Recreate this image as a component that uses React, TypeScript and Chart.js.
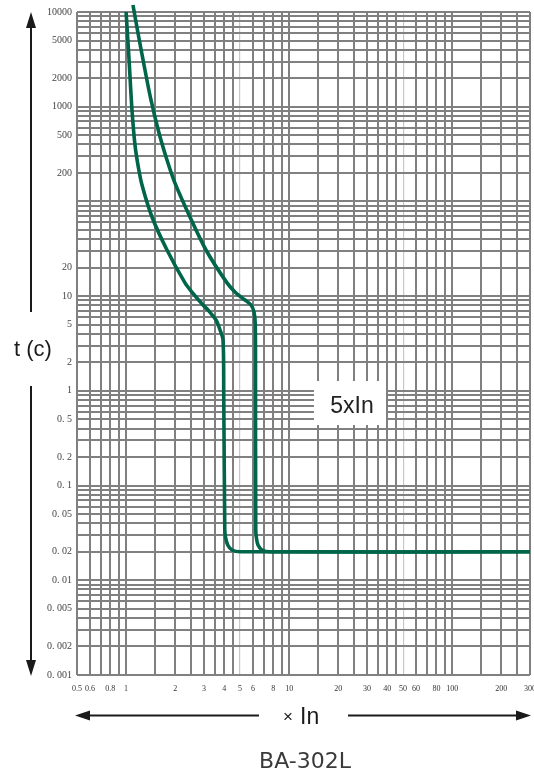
import React, { useEffect, useRef } from 'react';
import { Chart, registerables } from 'chart.js';

Chart.register(...registerables);

// ---- tick labels ----
const X_LABELS = [0.5, 0.6, 0.8, 1, 2, 3, 4, 5, 6, 8, 10, 20, 30, 40, 50, 60, 80, 100, 200, 300];
const Y_LABEL_VALUES = [10000, 5000, 2000, 1000, 500, 200, 20, 10, 5, 2, 1, 0.5, 0.2, 0.1, 0.05, 0.02, 0.01, 0.005, 0.002, 0.001];
const Y_LABEL_TEXT = ['10000', '5000', '2000', '1000', '500', '200', '20', '10', '5', '2', '1', '0. 5', '0. 2', '0. 1', '0. 05', '0. 02', '0. 01', '0. 005', '0. 002', '0. 001'];

// ---- grid (log paper) ----
const X_DECADES = [0.1, 1, 10, 100];
const X_STEPS = [1, 1.5, 2, 2.5, 3, 3.5, 4, 4.5, 5, 6, 7, 8, 9];
const Y_DECADES = [0.001, 0.01, 0.1, 1, 10, 100, 1000, 10000];
const Y_STEPS = [1, 2, 3, 4, 5, 6, 7, 8, 9];
const X_LIGHT = [5, 50];

// ---- curves (multiple of In, seconds) ----
const CURVE_A_X = [1.0, 1.042, 1.087, 1.134, 1.183, 1.252, 1.442, 1.782, 2.298, 2.536, 2.963, 3.18, 3.56, 3.77, 3.93, 3.97, 4.03, 4.08, 4.2, 4.46, 5.0, 300];
const CURVE_A_Y = [10000, 3200, 920, 394, 242, 149, 68.5, 30.7, 13.8, 11.05, 8.06, 7.14, 5.6, 4.39, 3.44, 1.0, 0.034, 0.028, 0.0236, 0.0209, 0.02, 0.02];
const CURVE_B_X = [1.102, 1.183, 1.306, 1.421, 1.592, 1.782, 1.995, 2.465, 3.09, 4.16, 4.72, 5.36, 5.84, 6.09, 6.2, 6.22, 6.24, 6.3, 6.44, 6.82, 7.63, 300];
const CURVE_B_Y = [11850, 6000, 2440, 1180, 528, 274, 156, 68.5, 30.7, 13.8, 10.8, 9.1, 8.06, 6.8, 4.96, 1.0, 0.034, 0.028, 0.0236, 0.0209, 0.02, 0.02];

const X_GRID: number[] = [];
X_DECADES.forEach((d) => X_STEPS.forEach((s) => {
  const v = +(d * s).toPrecision(6);
  if (v >= 0.5 && v <= 300) X_GRID.push(v);
}));
const Y_GRID: number[] = [];
Y_DECADES.forEach((d) => Y_STEPS.forEach((s) => {
  const v = +(d * s).toPrecision(6);
  if (v >= 0.001 && v <= 10000) Y_GRID.push(v);
}));

const near = (a: number, b: number) => Math.abs(a - b) <= Math.abs(b) * 1e-6;

const GREEN = '#00654a';
const GRID = '#808080';

function arrowHead(ctx: CanvasRenderingContext2D, tipX: number, tipY: number, dir: 'up' | 'down' | 'left' | 'right', len: number, half: number) {
  ctx.beginPath();
  ctx.moveTo(tipX, tipY);
  if (dir === 'up') { ctx.lineTo(tipX - half, tipY + len); ctx.lineTo(tipX + half, tipY + len); }
  if (dir === 'down') { ctx.lineTo(tipX - half, tipY - len); ctx.lineTo(tipX + half, tipY - len); }
  if (dir === 'left') { ctx.lineTo(tipX + len, tipY - half); ctx.lineTo(tipX + len, tipY + half); }
  if (dir === 'right') { ctx.lineTo(tipX - len, tipY - half); ctx.lineTo(tipX - len, tipY + half); }
  ctx.closePath();
  ctx.fill();
}

const decor = {
  id: 'decor',
  beforeDatasetsDraw(chart: any) {
    const ctx = chart.ctx as CanvasRenderingContext2D;
    ctx.save();
    ctx.fillStyle = '#ffffff';
    ctx.fillRect(314, 381, 72, 44);
    ctx.fillStyle = '#222';
    ctx.font = '23px "Liberation Sans", Arial, sans-serif';
    ctx.textAlign = 'center';
    ctx.textBaseline = 'alphabetic';
    ctx.fillText('5xIn', 352, 413);
    ctx.restore();
  },
  afterDraw(chart: any) {
    const ctx = chart.ctx as CanvasRenderingContext2D;
    ctx.save();
    ctx.strokeStyle = '#1a1a1a';
    ctx.fillStyle = '#1a1a1a';
    ctx.lineWidth = 2;
    // vertical t axis arrow
    ctx.beginPath();
    ctx.moveTo(31, 26); ctx.lineTo(31, 312);
    ctx.moveTo(31, 386); ctx.lineTo(31, 662);
    ctx.stroke();
    arrowHead(ctx, 31, 12, 'up', 16, 5);
    arrowHead(ctx, 31, 676, 'down', 16, 5);
    ctx.font = '22px "Liberation Sans", Arial, sans-serif';
    ctx.textAlign = 'center';
    ctx.textBaseline = 'middle';
    ctx.fillText('t (c)', 33, 350);
    // horizontal In arrow
    ctx.beginPath();
    ctx.moveTo(88, 715.5); ctx.lineTo(259, 715.5);
    ctx.moveTo(348, 715.5); ctx.lineTo(517, 715.5);
    ctx.stroke();
    arrowHead(ctx, 75, 715.5, 'left', 15, 5);
    arrowHead(ctx, 531, 715.5, 'right', 15, 5);
    ctx.textBaseline = 'alphabetic';
    ctx.textAlign = 'left';
    ctx.font = '17px "Liberation Sans", Arial, sans-serif';
    ctx.fillText('\u00d7', 283, 722);
    ctx.font = '23px "Liberation Sans", Arial, sans-serif';
    ctx.fillText('In', 300, 724);
    // title
    ctx.fillStyle = '#3a3a3a';
    ctx.textAlign = 'center';
    ctx.font = '22px "DejaVu Sans", sans-serif';
    ctx.fillText('BA-302L', 305, 768);
    ctx.restore();
  },
};

export default function App() {
  const ref = useRef<HTMLCanvasElement | null>(null);
  useEffect(() => {
    if (!ref.current) return;
    const chart = new Chart(ref.current, {
      type: 'line',
      data: {
        datasets: [
          {
            data: CURVE_A_X.map((x, i) => ({ x, y: CURVE_A_Y[i] })),
            borderColor: GREEN, borderWidth: 3.6, pointRadius: 0, tension: 0.3,
            fill: false, clip: false, borderJoinStyle: 'round',
          },
          {
            data: CURVE_B_X.map((x, i) => ({ x, y: CURVE_B_Y[i] })),
            borderColor: GREEN, borderWidth: 3.6, pointRadius: 0, tension: 0.3,
            fill: false, clip: false, borderJoinStyle: 'round',
          },
        ],
      },
      options: {
        animation: false,
        responsive: false,
        events: [],
        layout: { padding: { left: 0, top: 12, right: 4, bottom: 69 } },
        plugins: { legend: { display: false }, tooltip: { enabled: false }, title: { display: false } },
        scales: {
          x: {
            type: 'logarithmic', min: 0.5, max: 300,
            afterBuildTicks: (s: any) => { s.ticks = X_GRID.map((v) => ({ value: v })); },
            afterFit: (s: any) => { s.height = 30; s.paddingLeft = 0; s.paddingRight = 0; },
            ticks: {
              autoSkip: false, maxRotation: 0, minRotation: 0, padding: 9, color: '#333',
              font: { family: '"Liberation Serif", serif', size: 8 },
              callback: (v: any) => {
                const l = X_LABELS.find((t) => near(Number(v), t));
                return l === undefined ? '' : String(l);
              },
            },
            grid: {
              drawTicks: false,
              color: (c: any) => (c.tick && X_LIGHT.some((t) => near(c.tick.value, t)) ? '#c8c8c8' : GRID),
              lineWidth: (c: any) => (c.tick && X_LIGHT.some((t) => near(c.tick.value, t)) ? 1.2 : 2),
            },
            border: { display: false },
          },
          y: {
            type: 'logarithmic', min: 0.001, max: 10000,
            afterBuildTicks: (s: any) => { s.ticks = Y_GRID.map((v) => ({ value: v })); },
            afterFit: (s: any) => { s.width = 77; s.paddingTop = 0; s.paddingBottom = 0; },
            ticks: {
              autoSkip: false, padding: 5, color: '#444',
              font: { family: '"Liberation Serif", serif', size: 10 },
              callback: (v: any) => {
                const i = Y_LABEL_VALUES.findIndex((t) => near(Number(v), t));
                return i < 0 ? '' : Y_LABEL_TEXT[i];
              },
            },
            grid: { drawTicks: false, color: GRID, lineWidth: 2 },
            border: { display: false },
          },
        },
      },
      plugins: [decor],
    } as any);
    return () => chart.destroy();
  }, []);
  return (
    <div style={{ position: 'absolute', left: 0, top: 0, width: 534, height: 774, background: '#fff' }}>
      <canvas ref={ref} width={534} height={774} style={{ width: 534, height: 774, display: 'block' }} />
    </div>
  );
}
